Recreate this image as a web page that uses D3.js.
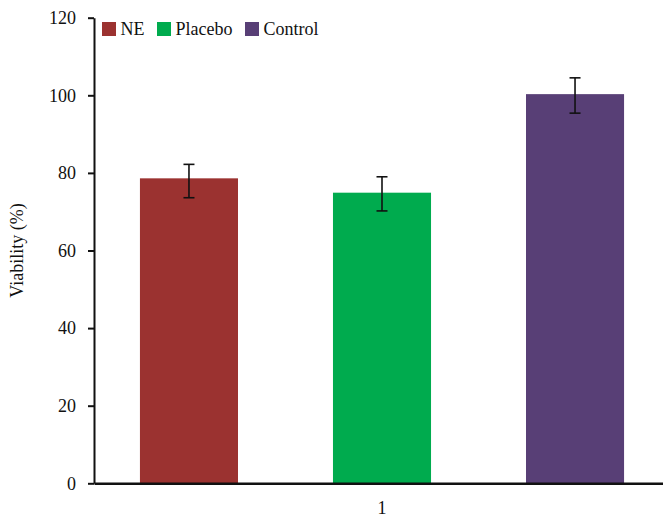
<!DOCTYPE html>
<html>
<head>
<meta charset="utf-8">
<script src="https://cdn.jsdelivr.net/npm/d3@7"></script>
<style>
  body { margin: 0; background: #fff; }
  svg { display: block; font-family: "Liberation Serif", "Times New Roman", serif; }
</style>
</head>
<body>
<svg id="chart" width="663" height="517"></svg>
<script>
// Cell viability by treatment group (mean with upper/lower error)
const groups = ["1"];
const series = ["NE", "Placebo", "Control"];
const means = [78.6, 74.9, 100.3];
const errUp = [3.6, 4.1, 4.2];
const errDown = [5.0, 4.7, 4.9];
const colors = ["#9B3230", "#00AB4E", "#583F76"];
const yTicks = [0, 20, 40, 60, 80, 100, 120];

const FONT = "Liberation Serif, Times New Roman, serif";
const svg = d3.select("#chart");
const margin = { left: 94, right: -7, top: 17.7, bottom: 33.7 };
const W = 663, H = 517;

const x0 = d3.scaleBand().domain(groups).range([margin.left, W - margin.right]).padding(0);
const x1 = d3.scaleBand().domain(series).range([0, x0.bandwidth()]).paddingInner(0.492).paddingOuter(0.238);
const y = d3.scaleLinear().domain([0, 120]).range([H - margin.bottom, margin.top]);

// bars with error bars
const g = svg.append("g");
series.forEach((s, i) => {
  const bx = x0(groups[0]) + x1(s);
  g.append("rect")
    .attr("x", bx)
    .attr("y", y(means[i]))
    .attr("width", x1.bandwidth())
    .attr("height", y(0) - y(means[i]))
    .attr("fill", colors[i]);
  const cx = bx + x1.bandwidth() / 2;
  const hi = y(means[i] + errUp[i]), lo = y(means[i] - errDown[i]);
  const e = g.append("g").attr("stroke", "#111").attr("stroke-width", 1.6);
  e.append("line").attr("x1", cx).attr("x2", cx).attr("y1", hi).attr("y2", lo);
  e.append("line").attr("x1", cx - 5.5).attr("x2", cx + 5.5).attr("y1", hi).attr("y2", hi);
  e.append("line").attr("x1", cx - 5.5).attr("x2", cx + 5.5).attr("y1", lo).attr("y2", lo);
});

// y axis
const yAxis = svg.append("g")
  .attr("transform", `translate(${margin.left},0)`)
  .call(d3.axisLeft(y).tickValues(yTicks).tickSize(6).tickSizeOuter(0).tickPadding(12));
yAxis.select(".domain").attr("stroke", "#111").attr("stroke-width", 2);
yAxis.selectAll(".tick line").attr("stroke", "#111").attr("stroke-width", 2);
yAxis.selectAll(".tick text").attr("font-size", 18).attr("fill", "#111").attr("font-family", FONT);

// x axis
const xAxis = svg.append("g")
  .attr("transform", `translate(0,${y(0)})`)
  .call(d3.axisBottom(x0).tickSize(0).tickPadding(18));
xAxis.select(".domain").attr("stroke", "#111").attr("stroke-width", 2.4);
xAxis.selectAll(".tick text").attr("font-size", 18).attr("fill", "#111").attr("font-family", FONT);

// y axis title
svg.append("text")
  .attr("transform", `translate(23,${(y(0) + y(120)) / 2}) rotate(-90)`)
  .attr("text-anchor", "middle")
  .attr("font-size", 18)
  .attr("fill", "#111")
  .text("Viability (%)");

// legend
const legendX = [102, 157, 245];
series.forEach((s, i) => {
  const lg = svg.append("g").attr("transform", `translate(${legendX[i]},22)`);
  lg.append("rect").attr("width", 14).attr("height", 14).attr("fill", colors[i]);
  lg.append("text").attr("x", 18.5).attr("y", 13).attr("font-size", 18).attr("fill", "#111").text(s);
});
</script>
</body>
</html>
